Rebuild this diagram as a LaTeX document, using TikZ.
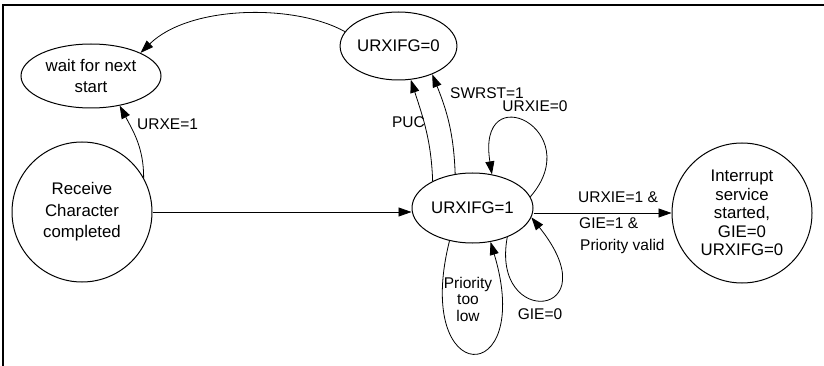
\documentclass[tikz,border=0pt]{standalone}
\usepackage{fontspec}
\setmainfont{Liberation Sans}
\usetikzlibrary{shapes.geometric,arrows.meta}
\begin{document}
\begin{tikzpicture}[x=1pt,y=-1pt,
  state/.style={draw,line width=1pt,ellipse,inner sep=0pt,align=center,
    font=\fontsize{16.8}{21.5}\selectfont},
  arr/.style={line width=0.8pt,-{Triangle[length=13pt,width=9pt]}},
  lbl/.style={inner sep=0pt,font=\fontsize{15.5}{16.5}\selectfont,align=center}]
\useasboundingbox (0,0) rectangle (824,366);
\draw[line width=1.5pt] (3,366) -- (3,5) -- (824,5);
% states
\node[state,minimum width=140pt,minimum height=64pt] (wait) at (91,76) {wait for next\\start};
\node[state,minimum width=107pt,minimum height=68pt] (z0) at (398.5,46) {URXIFG=0};
\node[state,circle,minimum size=140pt] (recv) at (82,212) {Receive\\Character\\completed};
\node[state,minimum width=121pt,minimum height=70pt] (z1) at (472.5,208) {URXIFG=1};
\node[state,circle,minimum size=140pt,font=\fontsize{16.8}{18.5}\selectfont] (intr) at (742,213) {Interrupt\\service\\started,\\GIE=0\\URXIFG=0};
% transitions
\draw[arr] (recv.east) -- (recv.east -| z1.west);
\draw[arr] (z1.east |- intr.west) -- (intr.west);
\draw[arr] (recv.29) to[out=90,in=-62] (wait.-46);
\draw[arr] (z0.165) .. controls +(-50,-28) and +(49,-48) .. (wait.25);
\draw[arr] (z1.146) to[out=92,in=-72] (z0.-70);
\draw[arr] (z1.117) to[out=92,in=-68] (z0.-40);
\draw[arr] (z1.11) .. controls (588,130) and (476,75) .. (z1.60);
\draw[arr] (z1.-40) .. controls (490,330) and (612,318) .. (z1.-9);
\draw[arr] (z1.-125) .. controls (412,390) and (535,390) .. (z1.-62);
% labels
\node[lbl,anchor=west] (lurxe) at (137,124) {URXE=1};
\node[lbl,anchor=east] (lpuc) at (425,122) {PUC};
\node[lbl,anchor=west] (lswrst) at (450,93) {SWRST=1};
\node[lbl] (lurxie0) at (535,106) {URXIE=0};
\node[lbl,anchor=west] (la) at (578,197) {URXIE=1 \&};
\node[lbl,anchor=west] (lb) at (579,223) {GIE=1 \&};
\node[lbl,anchor=west] (lc) at (580,246) {Priority valid};
\node[lbl] (lgie) at (540,314) {GIE=0};
\node[lbl] (lprio) at (468,299) {Priority\\too\\low};
\end{tikzpicture}
\end{document}
